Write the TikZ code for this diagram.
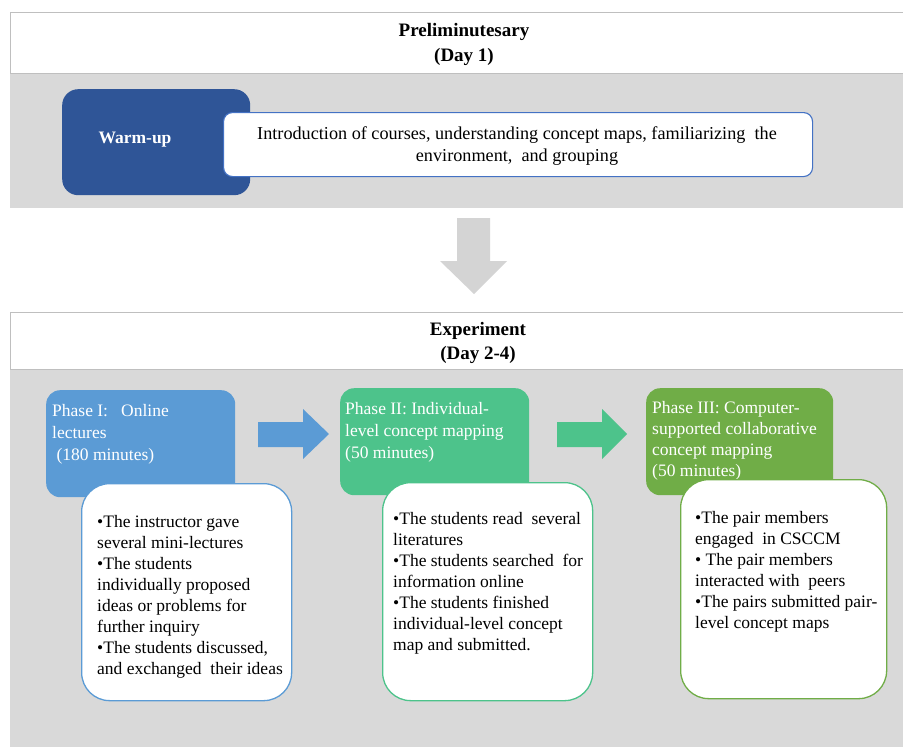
\documentclass[tikz,border=0pt]{standalone}
\usepackage{fontspec}
\setmainfont{Liberation Serif}
\definecolor{bandgray}{HTML}{D9D9D9}
\definecolor{rulegray}{HTML}{BFBFBF}
\definecolor{arrowgray}{HTML}{D4D4D4}
\definecolor{navy}{HTML}{2F5597}
\definecolor{navyline}{HTML}{4472C4}
\definecolor{skyblue}{HTML}{5B9BD5}
\definecolor{mint}{HTML}{4DC38B}
\definecolor{leaf}{HTML}{70AD47}
\tikzset{
  band/.style={fill=bandgray, draw=none, anchor=north west, inner sep=0},
  header/.style={fill=white, draw=rulegray, line width=1.4pt, anchor=north west, inner sep=0},
  phasebox/.style={draw=none, rounded corners=14pt, anchor=north west, inner sep=0},
  notebox/.style={fill=white, line width=1.3pt, rounded corners=28pt, anchor=north west, inner sep=0},
  headtext/.style={align=center, inner sep=0, font=\bfseries\fontsize{19}{25}\selectfont},
  bodytext/.style={anchor=base west, inner sep=0, font=\fontsize{17.5}{21}\selectfont},
  phasetext/.style={anchor=base west, inner sep=0, text=white, font=\fontsize{17.5}{22.3}\selectfont},
}
\newcommand{\lines}[2]{\parbox[t]{#1}{\raggedright #2}}
\begin{document}
\begin{tikzpicture}[x=1pt, y=-1pt]
\clip (0,0) rectangle (903,747);
\fill[white] (0,0) rectangle (903,747);

% ---- Day 1 section ----
\node[band, minimum width=900pt, minimum height=135pt] (band1) at (10,73) {};
\node[header, minimum width=900pt, minimum height=61pt] (head1) at (10,12) {};
\node[headtext] (head1text) at (464,44) {Preliminutesary\\(Day 1)};

\node[phasebox, fill=navy, rounded corners=16pt, minimum width=188pt, minimum height=106pt] (warm) at (62,89) {};
\node[text=white, inner sep=0, font=\bfseries\fontsize{17.5}{20}\selectfont] (warmtext) at (135,140) {Warm-up};
\node[fill=white, draw=navyline, line width=1.1pt, rounded corners=9pt, anchor=north west, inner sep=0,
      minimum width=589pt, minimum height=64pt] (intro) at (223,112) {};
\node[align=center, inner sep=0, font=\fontsize{18.2}{22}\selectfont] (introtext) at (517,146)
  {Introduction of courses, understanding concept maps, familiarizing\ \ the\\environment,\ \ and grouping};

% ---- transition arrow ----
\fill[arrowgray] (457,218) -- (490,218) -- (490,261) -- (507,261) -- (474,294)
  -- (440,261) -- (457,261) -- cycle;

% ---- Day 2-4 section ----
\node[band, minimum width=900pt, minimum height=380pt] (band2) at (10,369) {};
\node[header, minimum width=900pt, minimum height=57pt] (head2) at (10,312) {};
\node[headtext, font=\bfseries\fontsize{19}{23.5}\selectfont] (head2text) at (478,343) {Experiment\\(Day 2-4)};

% Phase I
\node[phasebox, fill=skyblue, minimum width=189pt, minimum height=107pt] (p1) at (46,390) {};
\node[phasetext] (p1text) at (52,416) {\lines{185pt}{Phase I:\ \ \ Online\\lectures\\\ (180 minutes)}};
\node[notebox, draw=skyblue, minimum width=210pt, minimum height=217pt] (n1) at (81,483) {};
\node[bodytext] (n1text) at (97,527) {\lines{195pt}{•The instructor gave\\several mini-lectures\\•The students\\individually proposed\\ideas or problems for\\further inquiry\\•The students discussed,\\and exchanged\ \ their ideas}};

% Phase II
\node[phasebox, fill=mint, minimum width=189pt, minimum height=107pt] (p2) at (340,388) {};
\node[phasetext] (p2text) at (345,414) {\lines{185pt}{Phase II: Individual-\\level concept mapping\\(50 minutes)}};
\node[notebox, draw=mint, minimum width=210pt, minimum height=218pt] (n2) at (382,482) {};
\node[bodytext] (n2text) at (393,524) {\lines{200pt}{•The students read\ \ several\\literatures\\•The students searched\ \ for\\information online\\•The students finished\\individual-level concept\\map and submitted.}};

% Phase III
\node[phasebox, fill=leaf, minimum width=187pt, minimum height=107pt] (p3) at (646,388) {};
\node[phasetext, font=\fontsize{17.5}{21}\selectfont] (p3text) at (652,413) {\lines{185pt}{Phase III: Computer-\\supported collaborative\\concept mapping\\(50 minutes)}};
\node[notebox, draw=leaf, minimum width=206pt, minimum height=219pt] (n3) at (680,479) {};
\node[bodytext] (n3text) at (695,523) {\lines{195pt}{•The pair members\\engaged\ \ in CSCCM\\• The pair members\\interacted with\ \ peers\\•The pairs submitted pair-\\level concept maps}};

% ---- phase-to-phase arrows ----
\fill[skyblue] (258,422) -- (303,422) -- (303,409) -- (329,434) -- (303,459)
  -- (303,447) -- (258,447) -- cycle;
\fill[mint] (557,422) -- (602,422) -- (602,409) -- (627,434) -- (602,459)
  -- (602,447) -- (557,447) -- cycle;
\end{tikzpicture}
\end{document}
